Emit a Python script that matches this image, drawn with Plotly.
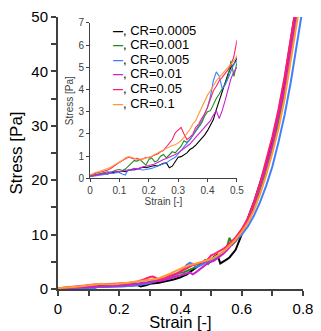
import plotly.graph_objects as go

# ---- data ----
STRAIN = [0.00, 0.01, 0.02, 0.03, 0.04, 0.05, 0.06, 0.07, 0.08, 0.09,
          0.10, 0.11, 0.12, 0.13, 0.14, 0.15, 0.16, 0.17, 0.18, 0.19,
          0.20, 0.21, 0.22, 0.23, 0.24, 0.25, 0.26, 0.27, 0.28, 0.29,
          0.30, 0.31, 0.32, 0.33, 0.34, 0.35, 0.36, 0.37, 0.38, 0.39,
          0.40, 0.41, 0.42, 0.43, 0.44, 0.45, 0.46, 0.47, 0.48, 0.49,
          0.50, 0.51, 0.52, 0.53, 0.54, 0.55, 0.56, 0.57, 0.58, 0.59,
          0.60,
          0.62, 0.64, 0.66, 0.68, 0.70, 0.72, 0.74, 0.76, 0.78, 0.80]

SERIES_NAMES = [", CR=0.0005", ", CR=0.001", ", CR=0.005",
                ", CR=0.01", ", CR=0.05", ", CR=0.1"]
SERIES_COLORS = ["#000000", "#1e8c1e", "#3f7fff", "#cc22cc", "#ff1f6e", "#ff9933"]

STRESS_CR_0005 = [0.10, 0.12, 0.15, 0.17, 0.18, 0.22, 0.20, 0.25, 0.28, 0.26,
                  0.30, 0.33, 0.30, 0.36, 0.40, 0.38, 0.42, 0.45, 0.50, 0.48,
                  0.52, 0.55, 0.58, 0.56, 0.62, 0.68, 0.70, 0.48, 0.55, 0.75,
                  0.95, 0.98, 1.05, 1.15, 1.30, 1.38, 1.50, 1.65, 1.80, 1.95,
                  2.15, 2.40, 2.65, 3.10, 3.50, 4.00, 4.40, 4.70, 5.00, 5.15,
                  5.40, 5.90, 6.30, 4.70, 5.00, 5.40, 5.80, 6.50, 7.20, 8.60,
                  10.2,
                  13.0, 16.0, 19.5, 23.0, 27.5, 32.5, 38.5, 46.0, 54.0, 60.0]

STRESS_CR_001 = [0.12, 0.15, 0.18, 0.20, 0.22, 0.26, 0.30, 0.28, 0.34, 0.38,
                 0.40, 0.36, 0.42, 0.55, 0.68, 0.80, 0.78, 0.85, 0.72, 0.60,
                 0.85, 0.92, 0.75, 0.80, 1.00, 1.08, 0.92, 1.05, 1.20, 1.15,
                 1.30, 1.45, 1.70, 1.62, 1.75, 1.95, 2.10, 2.30, 2.50, 2.80,
                 3.00, 3.05, 3.35, 3.60, 3.80, 4.00, 4.25, 4.60, 5.30, 4.60,
                 5.20, 5.40, 5.80, 6.30, 6.80, 7.40, 9.40, 8.20, 8.80, 9.60,
                 10.5,
                 12.5, 15.0, 18.0, 21.5, 25.5, 30.5, 36.0, 43.0, 51.0, 58.0]

STRESS_CR_005 = [0.08, 0.10, 0.12, 0.15, 0.14, 0.18, 0.20, 0.24, 0.22, 0.28,
                 0.26, 0.20, 0.15, 0.40, 0.35, 0.42, 0.45, 0.40, 0.38, 0.40,
                 0.42, 0.45, 0.50, 0.55, 0.60, 0.62, 0.70, 0.80, 0.88, 0.95,
                 1.10, 1.25, 1.40, 1.55, 1.75, 1.95, 2.15, 2.35, 2.60, 2.90,
                 3.20, 3.70, 4.40, 4.80, 4.60, 4.05, 4.20, 4.50, 4.85, 5.15,
                 5.30, 5.60, 5.90, 6.30, 6.80, 7.30, 7.80, 8.30, 8.90, 9.40,
                 10.0,
                 11.5, 13.5, 16.0, 19.0, 22.5, 27.0, 32.0, 38.0, 45.0, 52.0]

STRESS_CR_01 = [0.10, 0.12, 0.15, 0.18, 0.20, 0.22, 0.25, 0.28, 0.30, 0.32,
                0.30, 0.35, 0.38, 0.36, 0.40, 0.45, 0.42, 0.48, 0.52, 0.55,
                0.58, 0.62, 0.65, 0.72, 0.80, 0.85, 0.90, 0.95, 1.00, 1.08,
                1.15, 1.25, 1.35, 1.45, 1.55, 1.70, 1.85, 2.00, 2.15, 2.30,
                2.45, 2.60, 2.85, 3.05, 2.70, 3.05, 3.50, 3.95, 4.50, 4.80,
                5.00, 5.20, 5.60, 6.00, 6.50, 7.00, 7.60, 8.30, 9.00, 9.80,
                10.8,
                12.8, 15.5, 18.8, 22.5, 26.5, 31.5, 37.0, 44.0, 52.0, 58.0]

STRESS_CR_05 = [0.15, 0.20, 0.25, 0.28, 0.30, 0.33, 0.38, 0.45, 0.55, 0.65,
                0.72, 0.80, 0.88, 0.95, 0.92, 0.88, 0.90, 0.85, 0.88, 0.95,
                0.92, 1.00, 1.05, 1.10, 1.20, 1.25, 1.40, 1.55, 1.75, 2.05,
                2.20, 2.30, 2.00, 1.75, 1.85, 2.00, 2.30, 2.45, 2.70, 2.90,
                3.20, 3.60, 3.95, 4.15, 4.40, 4.55, 4.70, 4.90, 5.10, 5.50,
                6.20, 6.40, 6.70, 7.00, 7.40, 7.80, 8.30, 8.90, 9.50, 10.2,
                11.0,
                13.0, 16.0, 19.5, 23.5, 28.0, 33.0, 39.0, 46.0, 54.0, 60.0]

STRESS_CR_1 = [0.15, 0.22, 0.28, 0.30, 0.35, 0.38, 0.43, 0.50, 0.58, 0.65,
               0.72, 0.82, 0.92, 0.98, 0.95, 0.90, 0.85, 0.82, 0.88, 0.92,
               0.95, 1.00, 1.08, 1.15, 1.22, 1.30, 1.38, 1.42, 1.48, 1.52,
               1.60, 1.70, 1.85, 2.00, 2.20, 2.45, 2.60, 2.90, 3.20, 3.50,
               3.75, 3.95, 4.20, 4.40, 4.55, 4.70, 4.85, 5.00, 5.10, 5.30,
               5.50, 5.80, 6.10, 6.50, 6.90, 7.40, 7.90, 8.50, 9.10, 9.80,
               10.5,
               12.2, 14.5, 17.5, 21.0, 25.0, 29.5, 35.0, 42.0, 49.0, 56.0]

SERIES_VALUES = [STRESS_CR_0005, STRESS_CR_001, STRESS_CR_005,
                 STRESS_CR_01, STRESS_CR_05, STRESS_CR_1]

MAIN_X_TICKS = [0, 0.2, 0.4, 0.6, 0.8]
MAIN_Y_TICKS = [0, 10, 20, 30, 40, 50]
INSET_X_TICKS = [0, 0.1, 0.2, 0.3, 0.4, 0.5]
INSET_Y_TICKS = [0, 1, 2, 3, 4, 5, 6, 7]

FONT = "Liberation Sans, Arial, sans-serif"
AX = "#404040"

fig = go.Figure()
for name, color, ys in zip(SERIES_NAMES, SERIES_COLORS, SERIES_VALUES):
    fig.add_trace(go.Scatter(x=STRAIN, y=ys, mode="lines", name=name,
                             line=dict(color=color, width=2),
                             xaxis="x", yaxis="y", showlegend=False))
for name, color, ys in zip(SERIES_NAMES, SERIES_COLORS, SERIES_VALUES):
    fig.add_trace(go.Scatter(x=STRAIN, y=ys, mode="lines", name=name,
                             line=dict(color=color, width=1.1),
                             xaxis="x2", yaxis="y2", showlegend=False))

main_axis = dict(showgrid=False, zeroline=False, showline=True, linecolor=AX,
                 linewidth=2, ticks="outside", ticklen=5, tickwidth=1.5,
                 tickcolor=AX, tickfont=dict(family=FONT, size=15, color="#000"))
inset_axis = dict(showgrid=False, zeroline=False, showline=True, linecolor=AX,
                  linewidth=1, ticks="outside", ticklen=3, tickwidth=1,
                  tickcolor=AX, tickfont=dict(family=FONT, size=10, color="#404040"))

fig.update_layout(
    width=321, height=331,
    margin=dict(l=58, r=11, t=16, b=42),
    paper_bgcolor="white", plot_bgcolor="white",
    showlegend=False,
    xaxis=dict(main_axis, range=[0, 0.8], tickvals=MAIN_X_TICKS,
               minor=dict(ticks="outside", dtick=0.1, ticklen=5, tickwidth=1.5, tickcolor=AX),
               title=dict(text="Strain [-]", font=dict(family=FONT, size=16.5, color="#000"), standoff=8),
               automargin=False),
    yaxis=dict(main_axis, range=[0, 50], tickvals=MAIN_Y_TICKS,
               minor=dict(ticks="outside", dtick=5, ticklen=5, tickwidth=1.5, tickcolor=AX),
               title=dict(text="Stress [Pa]", font=dict(family=FONT, size=17, color="#000"), standoff=4),
               automargin=False),
    xaxis2=dict(inset_axis, domain=[0.131, 0.730], anchor="y2", range=[0, 0.5],
                tickvals=INSET_X_TICKS,
                title=dict(text="Strain [-]", font=dict(family=FONT, size=10, color="#404040"), standoff=1)),
    yaxis2=dict(inset_axis, domain=[0.4066, 0.978], anchor="x2", range=[0, 7],
                tickvals=INSET_Y_TICKS,
                title=dict(text="Stress [Pa]", font=dict(family=FONT, size=10, color="#404040"), standoff=3)),
)

for i, (name, color) in enumerate(zip(SERIES_NAMES, SERIES_COLORS)):
    fig.add_annotation(
        text=f"<span style='color:{color};font-size:10px'><b>—</b></span>{name}",
        x=0.218, y=0.952 - i * 0.0538, xref="paper", yref="paper",
        xanchor="left", yanchor="middle", showarrow=False,
        font=dict(family=FONT, size=13, color="#000"))

fig.write_html("out.html",
               config={"displayModeBar": False},
               post_script="document.body.style.margin='0';document.body.style.overflow='hidden';")
